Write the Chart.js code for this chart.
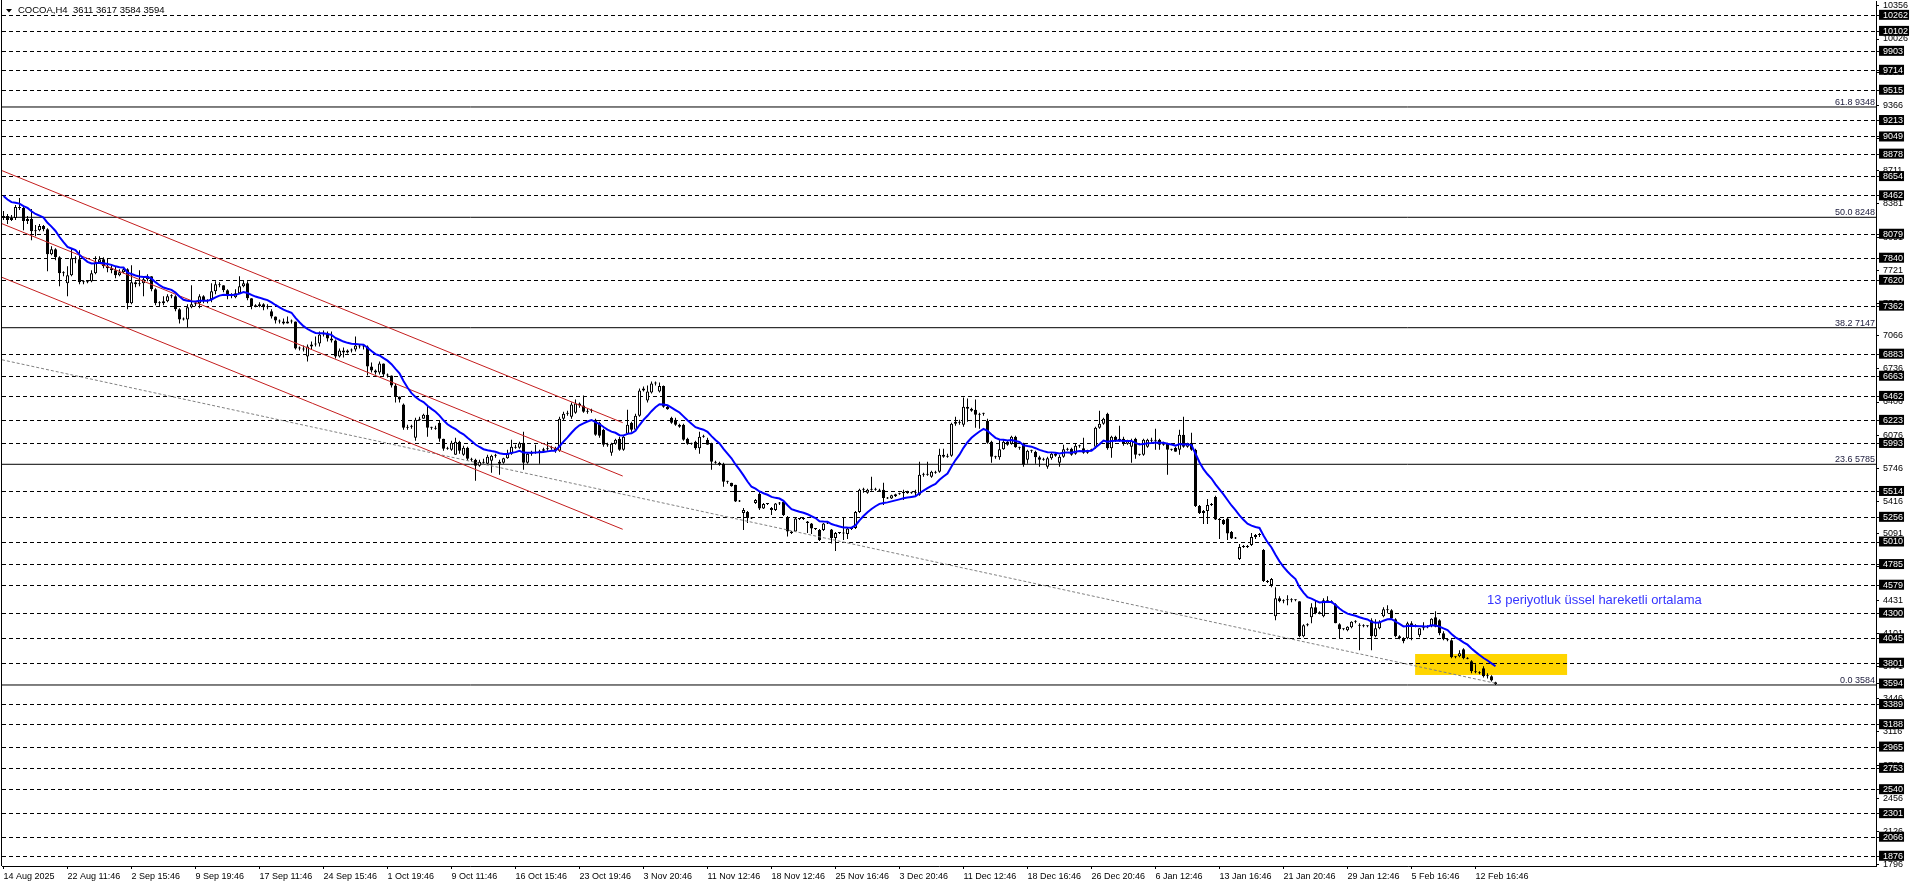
<!DOCTYPE html>
<html>
<head>
<meta charset="utf-8">
<script src="https://cdn.jsdelivr.net/npm/chart.js@4.4.1/dist/chart.umd.min.js"></script>
<style>
  html, body { margin: 0; padding: 0; background: #ffffff; }
  canvas { display: block; }
</style>
</head>
<body>
<canvas id="chart" width="1916" height="888"></canvas>
<script>
// COCOA H4 candles, one value per bar (bar 0 = 14 Aug 2025)
const opens = [
  8240,8260,8220,8240,8350,8340,8210,8230,8110,8120, 8160,8130,7880,7930,7850,7690,7590,7670,7840,7830,
  7600,7600,7610,7690,7800,7830,7760,7740,7720,7670, 7700,7730,7390,7600,7580,7590,7630,7660,7530,7390,
  7390,7410,7460,7460,7330,7230,7230,7350,7380,7390, 7460,7420,7430,7510,7580,7570,7520,7460,7450,7490,
  7560,7590,7440,7360,7360,7380,7350,7310,7260,7220, 7210,7190,7210,7210,6940,6940,6860,6960,6980,6990,
  7080,7090,7040,7020,6860,6920,6900,6920,6930,6970, 6960,6960,6760,6720,6700,6790,6680,6670,6570,6460,
  6380,6150,6160,6050,6230,6240,6280,6150,6150,6200, 6040,5940,5930,5880,6010,5880,5950,5840,5830,5770,
  5810,5790,5820,5870,5790,5800,5845,5890,5960,5950, 6000,5800,5890,5900,5910,5920,5935,5945,5950,5920,
  6240,6290,6260,6300,6390,6370,6310,6320,6230,6200, 6130,5980,5900,5990,6040,5930,6090,6200,6130,6270,
  6520,6420,6500,6590,6510,6565,6360,6250,6230,6180, 6180,6040,5990,6010,5945,6060,6030,5990,5810,5800,
  5790,5610,5600,5580,5415,5300,5310,5250,5400,5490, 5345,5390,5350,5330,5395,5410,5260,5115,5115,5245,
  5240,5215,5195,5145,5130,5130,5195,5135,5050,5100, 5100,5090,5140,5150,5310,5530,5500,5530,5535,5520,
  5530,5450,5445,5465,5485,5495,5510,5495,5495,5480, 5680,5680,5660,5710,5710,5880,5860,5870,6190,6210,
  6180,6360,6340,6330,6280,6290,6220,6010,5860,5855, 5935,6010,5990,6060,5955,5990,5830,5920,5910,5855,
  5830,5760,5845,5890,5800,5860,5935,5940,5890,5970, 5945,5900,5925,5960,6150,6190,6290,5945,6060,6025,
  6040,5990,5960,6040,5880,5880,5960,6030,6020,6030, 5980,5990,5930,5950,5930,6080,5960,6000,5930,5370,
  5300,5320,5380,5460,5235,5230,5245,5110,5045,4840, 4960,4965,4980,5060,5080,4930,4620,4580,4270,4450,
  4420,4430,4440,4430,4420,4070,4180,4260,4360,4300, 4270,4430,4420,4390,4190,4140,4130,4160,4215,4185,
  4175,4170,4230,4070,4150,4270,4340,4330,4240,4070, 4050,4050,4200,4180,4080,4150,4160,4170,4260,4230,
  4100,4040,4030,3860,3870,3940,3850,3820,3720,3710, 3750,3670,3670,3611
];
const highs = [
  8310,8280,8270,8370,8440,8360,8260,8330,8170,8180, 8170,8140,7960,7940,7860,7710,7760,7940,7860,7920,
  7620,7620,7720,7860,7860,7850,7840,7770,7760,7730, 7750,7740,7770,7610,7720,7660,7680,7660,7540,7410,
  7460,7480,7480,7470,7340,7250,7380,7570,7410,7480, 7470,7430,7590,7610,7600,7570,7530,7490,7530,7660,
  7620,7610,7440,7380,7400,7390,7380,7330,7260,7230, 7240,7260,7230,7210,6960,6970,6980,7010,7060,7110,
  7120,7110,7110,7030,6940,6950,6930,6940,7060,6980, 6980,6970,6800,6730,6810,6790,6690,6670,6590,6460,
  6390,6180,6180,6250,6260,6290,6370,6160,6170,6220, 6040,5960,6020,6050,6020,5970,5960,5850,5840,5830,
  5840,5880,5880,5890,5830,5850,5930,6030,5980,6010, 6110,5900,5920,5980,5930,5950,6010,5970,5960,6260,
  6310,6320,6400,6430,6400,6470,6340,6340,6240,6210, 6140,6000,6000,6040,6060,6070,6330,6210,6290,6540,
  6560,6570,6610,6610,6600,6570,6370,6260,6250,6190, 6190,6050,6000,6020,6110,6080,6050,6000,5820,5810,
  5800,5620,5600,5580,5430,5350,5320,5260,5440,5510, 5400,5400,5360,5400,5410,5420,5270,5120,5260,5250,
  5250,5220,5200,5150,5140,5200,5210,5140,5110,5110, 5260,5150,5160,5320,5540,5550,5540,5660,5550,5540,
  5600,5460,5480,5490,5500,5530,5520,5510,5530,5810, 5700,5810,5720,5720,5940,5940,5890,6200,6260,6230,
  6450,6440,6350,6430,6300,6300,6240,6020,5870,6030, 6035,6020,6070,6070,5960,6000,5930,5930,5920,5870,
  5850,5860,5900,5900,5880,5980,5950,5950,5990,5980, 6050,5930,5940,6160,6320,6250,6300,6070,6070,6170,
  6060,6030,6040,6050,5890,6040,6040,6050,6140,6040, 6010,6000,5940,5960,6130,6260,6000,6100,5940,5380,
  5330,5440,5400,5470,5250,5240,5250,5120,5060,4990, 4980,4980,5100,5090,5100,4940,4630,4650,4560,4470,
  4440,4480,4450,4440,4420,4190,4200,4400,4430,4320, 4450,4470,4430,4400,4200,4150,4170,4220,4230,4200,
  4190,4180,4250,4240,4230,4360,4380,4340,4250,4080, 4060,4215,4220,4190,4150,4210,4180,4250,4320,4240,
  4120,4050,4040,3870,3930,3950,3860,3830,3790,3720, 3770,3700,3680,3617
];
const lows = [
  8220,8180,8210,8220,8320,8120,8180,8020,8060,8110, 8110,7710,7870,7820,7560,7660,7460,7660,7790,7580,
  7580,7590,7600,7680,7790,7740,7700,7690,7640,7660, 7690,7330,7380,7550,7560,7460,7610,7510,7370,7360,
  7370,7400,7440,7310,7190,7220,7150,7340,7360,7340, 7390,7390,7400,7480,7550,7500,7430,7440,7440,7490,
  7550,7420,7330,7350,7350,7320,7330,7240,7190,7190, 7180,7190,7190,6930,6920,6910,6810,6930,6960,6960,
  7060,7010,7000,6840,6850,6850,6890,6900,6910,6940, 6930,6670,6700,6680,6680,6660,6650,6550,6400,6400,
  6130,6130,6140,6020,6220,6240,6060,6130,6130,6010, 5920,5930,5920,5880,5890,5870,5820,5810,5620,5760,
  5790,5780,5700,5850,5680,5790,5840,5880,5940,5940, 5730,5790,5870,5890,5790,5900,5920,5930,5900,5910,
  6220,6270,6240,6290,6350,6300,6290,6300,6070,6050, 5960,5960,5870,5980,5920,5920,6080,6110,6120,6260,
  6510,6400,6490,6570,6500,6350,6330,6190,6170,6150, 6020,5980,5980,5930,5890,6050,5980,5730,5790,5770,
  5560,5590,5560,5410,5410,5130,5200,5240,5390,5330, 5340,5380,5280,5320,5380,5270,5065,5090,5110,5230,
  5230,5100,5090,5130,5020,5120,5190,4995,4920,5090, 5030,5040,5130,5140,5300,5500,5490,5520,5520,5510,
  5380,5440,5440,5460,5480,5430,5490,5490,5460,5470, 5660,5670,5650,5690,5700,5850,5850,5860,6170,6180,
  6160,6210,6310,6150,6140,6270,5990,5800,5840,5830, 5930,5970,5980,5950,5930,5760,5790,5900,5790,5760,
  5820,5740,5830,5860,5760,5850,5920,5870,5880,5950, 5890,5890,5920,5940,6140,6180,5930,5850,6010,6010,
  5970,5980,5800,5840,5870,5870,5950,6000,5930,5930, 5970,5680,5920,5910,5880,5950,5950,5920,5360,5290,
  5190,5190,5370,5230,5040,5180,5030,5040,5040,4830, 4950,4950,4970,5040,5060,4610,4600,4560,4230,4410,
  4400,4380,4410,4420,4060,4060,4170,4200,4290,4290, 4260,4410,4400,4200,4050,4130,4120,4150,4200,3930,
  4160,4160,3930,4060,4140,4260,4300,4240,4060,4040, 4000,4040,4030,4160,4060,4130,4150,4160,4160,4080,
  4030,4020,3850,3850,3860,3840,3840,3700,3700,3690, 3660,3650,3620,3584
];
const closes = [
  8260,8220,8240,8350,8340,8210,8230,8110,8120,8160, 8130,7880,7930,7850,7690,7690,7670,7840,7830,7600,
  7600,7610,7690,7800,7830,7760,7740,7720,7670,7700, 7730,7390,7600,7580,7590,7630,7660,7530,7390,7390,
  7410,7460,7460,7330,7230,7230,7350,7380,7390,7460, 7420,7410,7510,7580,7570,7520,7460,7470,7490,7560,
  7590,7440,7360,7360,7380,7350,7360,7260,7220,7210, 7190,7210,7210,6940,6940,6930,6960,6980,6990,7080,
  7090,7040,7020,6860,6920,6900,6920,6930,6970,6960, 6960,6760,6720,6700,6790,6680,6670,6570,6460,6430,
  6150,6160,6160,6230,6240,6280,6150,6150,6140,6040, 5940,5950,6000,6010,5920,5950,5840,5830,5770,5810,
  5800,5860,5870,5870,5810,5845,5890,5960,5950,5995, 5800,5890,5900,5910,5920,5935,5945,5950,5920,6240,
  6290,6300,6380,6390,6370,6310,6320,6320,6080,6070, 5980,5975,5990,6030,5930,6060,6180,6130,6270,6520,
  6540,6510,6590,6590,6565,6360,6335,6200,6180,6160, 6030,5990,5990,5945,6060,6060,5980,5810,5800,5780,
  5610,5610,5565,5415,5420,5330,5250,5245,5430,5345, 5390,5390,5330,5395,5400,5280,5115,5100,5245,5240,
  5240,5200,5145,5140,5030,5195,5200,5050,5100,5100, 5095,5145,5150,5310,5530,5530,5530,5535,5530,5530,
  5450,5445,5475,5485,5495,5510,5495,5500,5500,5680, 5680,5690,5710,5700,5880,5860,5870,6190,6210,6200,
  6360,6340,6320,6280,6290,6290,6000,5860,5855,5935, 6010,5980,6060,5955,5950,5780,5920,5920,5855,5830,
  5840,5845,5890,5870,5860,5935,5930,5880,5970,5965, 5900,5925,5930,6150,6190,6240,5945,6060,6025,6040,
  5990,6020,6020,5880,5880,6030,6030,6020,6030,5980, 6000,5930,5935,5910,6080,5960,5990,5930,5370,5300,
  5320,5380,5390,5235,5230,5190,5095,5045,5050,4960, 4965,4960,5060,5080,5090,4620,4610,4640,4450,4420,
  4430,4440,4430,4435,4070,4180,4190,4360,4300,4305, 4430,4420,4410,4200,4140,4140,4165,4215,4215,4175,
  4170,4180,4070,4150,4215,4340,4330,4250,4070,4050, 4020,4200,4180,4170,4150,4160,4165,4245,4165,4100,
  4040,4030,3860,3860,3900,3850,3845,3720,3710,3700, 3670,3680,3630,3594
];

// time axis labels, one every 16 bars
const timeLabels = ['14 Aug 2025','22 Aug 11:46','2 Sep 15:46','9 Sep 19:46','17 Sep 11:46','24 Sep 15:46',
  '1 Oct 19:46','9 Oct 11:46','16 Oct 15:46','23 Oct 19:46','3 Nov 20:46','11 Nov 12:46','18 Nov 12:46',
  '25 Nov 16:46','3 Dec 20:46','11 Dec 12:46','18 Dec 16:46','26 Dec 20:46','6 Jan 12:46','13 Jan 16:46',
  '21 Jan 20:46','29 Jan 12:46','5 Feb 16:46','12 Feb 16:46'];
const labelStep = 16;

// price axis: automatic scale marks, horizontal line levels, last price
const axisPrices = [10356,10026,9696,9366,9036,8711,8381,8051,7721,7391,7066,6736,6406,6076,5746,5416,
  5091,4761,4431,4101,3771,3446,3116,2786,2456,2126,1796];
const levelPrices = [10262,10102,9903,9714,9515,9213,9049,8878,8654,8462,8079,7840,7620,7362,6883,6663,
  6462,6223,5993,5514,5256,5010,4785,4579,4300,4045,3801,3389,3188,2965,2753,2540,2301,2066,1876];
const lastPrice = 3594;

// fibonacci levels
const fibRatios = ['61.8', '50.0', '38.2', '23.6', '0.0'];
const fibPrices = [9348, 8248, 7147, 5785, 3584];

// 13 period EMA, value at first bar
const emaPeriod = 13;
const emaStart = 8460;

// drawn objects (bar index, price)
const channelBars = [-0.375, 154.8];
const channelUpper = [8713, 6200];
const channelMiddle = [8184, 5668];
const channelLower = [7649, 5137];
const trendBars = [-0.375, 373];
const trendPrices = [6827, 3601];
const boxBars = [352.9, 390.9];
const boxPrices = [3893, 3684];
const noteBar = 370.9;
const notePrice = 4392;
const noteText = '13 periyotluk üssel hareketli ortalama';

const xMin = -0.375, xMax = 468.125;
const yMin = 1779, yMax = 10405;

const ema = [];
closes.forEach((c, i) => {
  ema.push(i === 0 ? emaStart : ema[i - 1] + (c - ema[i - 1]) * 2 / (emaPeriod + 1));
});

const boxedPrices = levelPrices.concat([lastPrice]);

function seg(bars, prices) {
  return [{x: bars[0], y: prices[0]}, {x: bars[1], y: prices[1]}];
}

const overlay = {
  id: 'overlay',
  beforeDraw(chart) {
    const {ctx, scales: {x, y}} = chart;
    const x0 = x.getPixelForValue(boxBars[0]), x1 = x.getPixelForValue(boxBars[1]);
    const y0 = y.getPixelForValue(boxPrices[0]), y1 = y.getPixelForValue(boxPrices[1]);
    ctx.save();
    ctx.fillStyle = '#ffd500';
    ctx.fillRect(x0, y0, x1 - x0, y1 - y0);
    ctx.restore();
  },
  afterDraw(chart) {
    const {ctx, chartArea, scales: {x, y}} = chart;
    ctx.save();
    // left frame
    ctx.strokeStyle = '#000';
    ctx.lineWidth = 1;
    ctx.beginPath();
    ctx.moveTo(1.5, 0);
    ctx.lineTo(1.5, chartArea.bottom);
    ctx.stroke();

    // fibo level captions
    ctx.font = '9px "Liberation Sans"';
    ctx.fillStyle = '#1c1c3c';
    ctx.textAlign = 'right';
    ctx.textBaseline = 'alphabetic';
    fibPrices.forEach((p, i) => {
      ctx.fillText(fibRatios[i] + ' ' + p, chartArea.right - 1, y.getPixelForValue(p) - 2);
    });

    // note text
    ctx.font = '13px "Liberation Sans"';
    ctx.fillStyle = '#3535ff';
    ctx.textAlign = 'left';
    ctx.fillText(noteText, x.getPixelForValue(noteBar), y.getPixelForValue(notePrice));

    // header
    ctx.fillStyle = '#000';
    ctx.beginPath();
    ctx.moveTo(6, 9);
    ctx.lineTo(12, 9);
    ctx.lineTo(9, 12.5);
    ctx.closePath();
    ctx.fill();
    ctx.font = '9.5px "Liberation Sans"';
    ctx.fillText('COCOA,H4  ' + opens[opens.length - 1] + ' ' + highs[highs.length - 1] + ' ' +
      lows[lows.length - 1] + ' ' + closes[closes.length - 1], 18, 13);
    ctx.restore();
  }
};

Chart.defaults.font.family = '"Liberation Sans", Arial, sans-serif';

new Chart(document.getElementById('chart'), {
  type: 'bar',
  data: {
    datasets: [
      {
        type: 'line', label: 'EMA 13', order: 0,
        data: ema.map((v, i) => ({x: i, y: v})),
        borderColor: '#0000ff', borderWidth: 2, pointRadius: 0, tension: 0
      },
      { type: 'line', order: 1, data: seg(channelBars, channelUpper), borderColor: '#c41e1e', borderWidth: 1, pointRadius: 0 },
      { type: 'line', order: 1, data: seg(channelBars, channelMiddle), borderColor: '#c41e1e', borderWidth: 1, pointRadius: 0 },
      { type: 'line', order: 1, data: seg(channelBars, channelLower), borderColor: '#c41e1e', borderWidth: 1, pointRadius: 0 },
      { type: 'line', order: 2, data: seg(trendBars, trendPrices), borderColor: '#808080', borderWidth: 1, borderDash: [3, 2], pointRadius: 0 },
      {
        label: 'body', order: 3, grouped: false,
        data: opens.map((o, i) => ({x: i, y: [o, closes[i]]})),
        backgroundColor: opens.map((o, i) => closes[i] >= o ? '#ffffff' : '#000000'),
        borderColor: '#000000', borderWidth: 1, borderSkipped: false,
        barThickness: 3, maxBarThickness: 3, minBarLength: 1, inflateAmount: 0
      },
      {
        label: 'wick', order: 4, grouped: false,
        data: highs.map((h, i) => ({x: i, y: [lows[i], h]})),
        backgroundColor: '#000000', borderWidth: 0,
        barThickness: 1, maxBarThickness: 1, inflateAmount: 0
      },
      ...fibPrices.map(p => ({
        type: 'line', order: 5, data: [{x: xMin, y: p}, {x: xMax, y: p}],
        borderColor: '#000000', borderWidth: 1, pointRadius: 0
      }))
    ]
  },
  options: {
    responsive: false,
    animation: false,
    events: [],
    layout: { autoPadding: false, padding: { left: 2, top: 1, right: 0, bottom: 0 } },
    plugins: { legend: { display: false }, tooltip: { enabled: false } },
    scales: {
      x: {
        type: 'linear', min: xMin, max: xMax, offset: false,
        afterFit: s => { s.height = 22; s.paddingLeft = 0; s.paddingRight = 0; },
        afterBuildTicks: s => { s.ticks = timeLabels.map((t, i) => ({value: i * labelStep})); },
        grid: { drawOnChartArea: false, drawTicks: true, tickLength: 3, color: '#000', offset: false },
        border: { display: true, color: '#000', width: 1 },
        ticks: {
          autoSkip: false, maxRotation: 0, minRotation: 0, align: 'start', padding: 2,
          color: '#000', font: { size: 9 },
          callback: v => timeLabels[Math.round(v / labelStep)]
        }
      },
      y: {
        type: 'linear', position: 'right', min: yMin, max: yMax,
        afterFit: s => { s.width = 40; s.paddingTop = 0; s.paddingBottom = 0; },
        afterBuildTicks: s => {
          s.ticks = axisPrices.concat(levelPrices, [lastPrice]).map(v => ({value: v}));
        },
        grid: {
          color: c => (c.tick && levelPrices.includes(c.tick.value)) ? '#000000' : 'rgba(0,0,0,0)',
          lineWidth: 1, drawTicks: true, tickLength: 3, tickColor: '#000000', tickWidth: 1
        },
        border: { display: true, color: '#000', width: 1, dash: [4, 3] },
        ticks: {
          autoSkip: false, padding: 4, crossAlign: 'near',
          font: { size: 9, lineHeight: 1 },
          color: c => boxedPrices.includes(c.tick.value) ? '#ffffff' : '#000000',
          showLabelBackdrop: c => boxedPrices.includes(c.tick.value),
          backdropColor: '#000000',
          backdropPadding: { top: 1, bottom: 0, left: 4, right: 1 },
          callback: v => String(v)
        }
      }
    }
  },
  plugins: [overlay]
});
</script>
</body>
</html>
